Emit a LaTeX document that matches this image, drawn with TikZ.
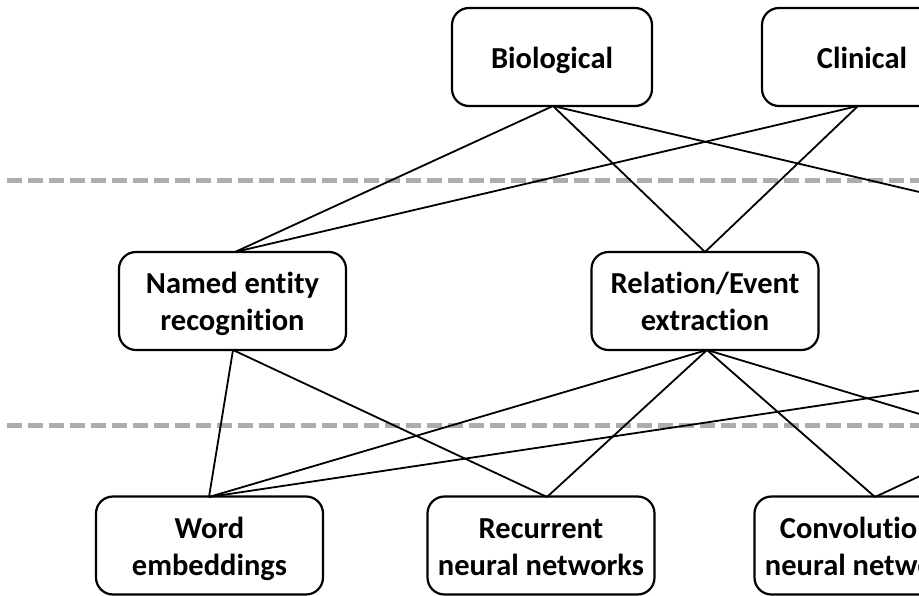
\documentclass[tikz,border=0pt]{standalone}
\usepackage{fontspec}
\setmainfont{Carlito}[Ligatures=NoCommon]
\newcommand\tstrt{\rule{0pt}{34pt}}
\begin{document}
\begin{tikzpicture}[x=1pt,y=-1pt,
  box/.style={draw, line width=2.2pt, rounded corners=17pt, align=center,
    font=\bfseries\fontsize{30.5}{37}\selectfont, inner sep=0pt},
  topbox/.style={box, minimum width=200pt, minimum height=98pt},
  midbox/.style={box, minimum width=227pt, minimum height=98pt},
  link/.style={line width=1.8pt},
  sep/.style={line width=5pt, color=black!32, dash pattern=on 15pt off 6pt}]
\useasboundingbox (0,0) rectangle (919,596);
\clip (0,0) rectangle (919,596);
% separators
\draw[sep] (7,181) -- (925,181);
\draw[sep] (7,425) -- (925,425);
% nodes
\node[topbox] (bio) at (552,57) {\tstrt\strut Biological};
\node[topbox] (cli) at (862,57) {\tstrt\strut Clinical};
\node[midbox] (ner) at (232.5,301) {\tstrt Named entity\\\strut recognition};
\node[midbox] (rel) at (705,301) {\tstrt Relation/Event\\\strut extraction};
\node[midbox] (we) at (209.5,545.5) {\tstrt Word\\\strut embeddings};
\node[midbox] (rnn) at (541,545.5) {\tstrt Recurrent\\\strut neural networks};
\node[midbox] (cnn) at (868,545.5) {\tstrt Convolutional\\\strut neural networks};
% off-picture ends
\coordinate (m3t) at (1175,252);
\coordinate (m3b) at (1190,350);
\coordinate (b4t) at (1195,497);
% anchors
\coordinate (bioB) at (553,106);
\coordinate (cliB) at (858,106);
\coordinate (nerT) at (235,252);
\coordinate (nerB) at (233,350);
\coordinate (relT) at (705,252);
\coordinate (relB) at (707,350);
\coordinate (weT) at (209,497);
\coordinate (rnnT) at (547,497);
\coordinate (cnnT) at (875,497);
% connectors
\draw[link] (bioB) -- (nerT);
\draw[link] (cliB) -- (nerT);
\draw[link] (bioB) -- (relT);
\draw[link] (cliB) -- (relT);
\draw[link] (bioB) -- (m3t);
\draw[link] (nerB) -- (weT);
\draw[link] (nerB) -- (rnnT);
\draw[link] (relB) -- (weT);
\draw[link] (relB) -- (rnnT);
\draw[link] (relB) -- (cnnT);
\draw[link] (relB) -- (b4t);
\draw[link] (weT) -- (m3b);
\draw[link] (cnnT) -- (m3b);
\end{tikzpicture}
\end{document}
